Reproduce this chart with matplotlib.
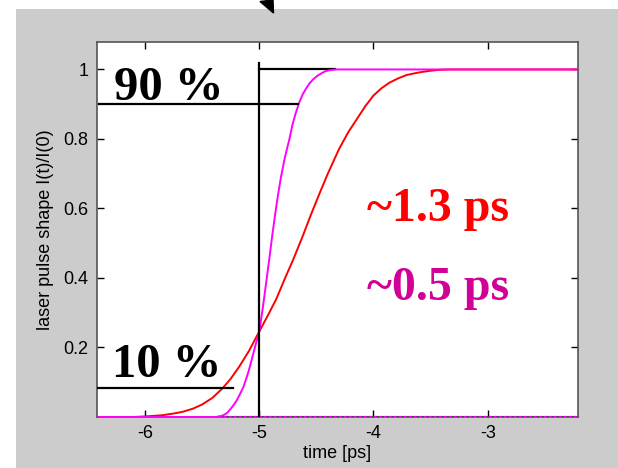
import matplotlib.pyplot as plt
from matplotlib.patches import Rectangle, Polygon

# values (time in ps, normalised intensity)
red_t = [-6.42, -6.1, -5.98, -5.85, -5.75, -5.67, -5.58, -5.5, -5.41, -5.32,
         -5.25, -5.175, -5.09, -5.0, -4.92, -4.85, -4.78, -4.70, -4.62, -4.55,
         -4.47, -4.40, -4.30, -4.22, -4.14, -4.07, -4.0, -3.93, -3.86, -3.78,
         -3.71, -3.61, -3.51, -3.42, -3.33, -2.21]
red_i = [0.0, 0.0, 0.002, 0.005, 0.01, 0.015, 0.024, 0.036, 0.055, 0.083,
         0.11, 0.145, 0.19, 0.246, 0.295, 0.34, 0.395, 0.455, 0.52, 0.58,
         0.645, 0.70, 0.772, 0.82, 0.86, 0.895, 0.925, 0.946, 0.962, 0.975,
         0.984, 0.991, 0.996, 0.999, 1.0, 1.0]

mag_t = [-6.42, -5.38, -5.32, -5.28, -5.234, -5.2, -5.17, -5.14, -5.117, -5.09,
         -5.059, -5.03, -5.0, -4.975, -4.956, -4.93, -4.91, -4.885, -4.86, -4.84,
         -4.81, -4.78, -4.757, -4.737, -4.71, -4.68, -4.65, -4.62, -4.59, -4.56,
         -4.53, -4.49, -4.45, -4.42, -4.386, -4.33, -2.21]
mag_i = [0.0, 0.0, 0.004, 0.012, 0.03, 0.046, 0.065, 0.085, 0.107, 0.135,
         0.174, 0.21, 0.246, 0.30, 0.345, 0.41, 0.46, 0.525, 0.585, 0.63,
         0.69, 0.74, 0.772, 0.798, 0.84, 0.875, 0.905, 0.928, 0.945, 0.96,
         0.971, 0.982, 0.99, 0.995, 0.998, 1.0, 1.0]

xticks = [-6, -5, -4, -3]
yticks = [0.2, 0.4, 0.6, 0.8, 1]
ytick_labels = ["0.2", "0.4", "0.6", "0.8", "1"]

fig = plt.figure(figsize=(6.18, 4.68), dpi=100, facecolor="white")
W, H = 618.0, 468.0

# grey backdrop and the arrow tip poking in from above
fig.patches.append(Rectangle((16 / W, 0), 1, (H - 9) / H, transform=fig.transFigure,
                             facecolor="#cccccc", edgecolor="none", zorder=-5))
tri = [(260, 1.5), (273, 0), (273.5, 13)]
fig.patches.append(Polygon([(x / W, (H - y) / H) for x, y in tri], closed=True,
                           transform=fig.transFigure, facecolor="black",
                           edgecolor="black", zorder=-4))

ax = fig.add_axes([97 / W, 1 - 417 / H, 481 / W, 375 / H])
ax.set_zorder(2)
ax.set_facecolor("white")

# bottom baseline: black with magenta dots on it
ax.plot([-5.35, -2.21], [0, 0], color="black", lw=1.5, zorder=2)
ax.plot(red_t, red_i, color="#ff0000", lw=1.4, zorder=3)
ax.plot(mag_t, mag_i, color="#ff00ff", lw=1.4, zorder=4)
ax.plot([-5.35, -2.21], [0, 0], color="#ff00ff", lw=1.5, ls=(0, (1.2, 1.2)), zorder=5)

# 10/90 % guide lines
ax.plot([-5, -5], [0, 1.019], color="black", lw=1.6, zorder=6)
ax.plot([-5, -4.34], [1, 1], color="black", lw=1.6, zorder=2)
ax.plot([-6.4, -4.66], [0.902, 0.902], color="black", lw=1.6, zorder=6)
ax.plot([-6.42, -5.23], [0.083, 0.083], color="black", lw=1.6, zorder=6)

serif = {"family": "Liberation Serif", "weight": "bold"}
ax.text(-6.27, 0.913, "90 %", fontsize=35, color="black", **serif)
ax.text(-6.29, 0.115, "10 %", fontsize=35, color="black", **serif)
ax.text(-4.06, 0.565, "~1.3 ps", fontsize=34.5, color="#ff0000", **serif)
ax.text(-4.06, 0.338, "~0.5 ps", fontsize=34.5, color="#d10096", **serif)

ax.set_xlim(-6.42, -2.21)
ax.set_ylim(0, 1.079)
ax.set_xticks(xticks)
ax.set_xticklabels([str(t) for t in xticks])
ax.set_yticks(yticks)
ax.set_yticklabels(ytick_labels)
ax.tick_params(direction="in", length=5, width=1, top=True, right=True,
               labelsize=13, pad=6, colors="black")
for lab in ax.get_xticklabels() + ax.get_yticklabels():
    lab.set_family("Liberation Sans")
for sp in ax.spines.values():
    sp.set_color("#555555")
    sp.set_linewidth(1.2)

ax.set_xlabel("time [ps]", fontsize=13, family="Liberation Sans", labelpad=2)
ax.set_ylabel("laser pulse shape I(t)/I(0)", fontsize=13, family="Liberation Sans",
              labelpad=7)

fig.savefig("out.png", dpi=100, facecolor="white")
